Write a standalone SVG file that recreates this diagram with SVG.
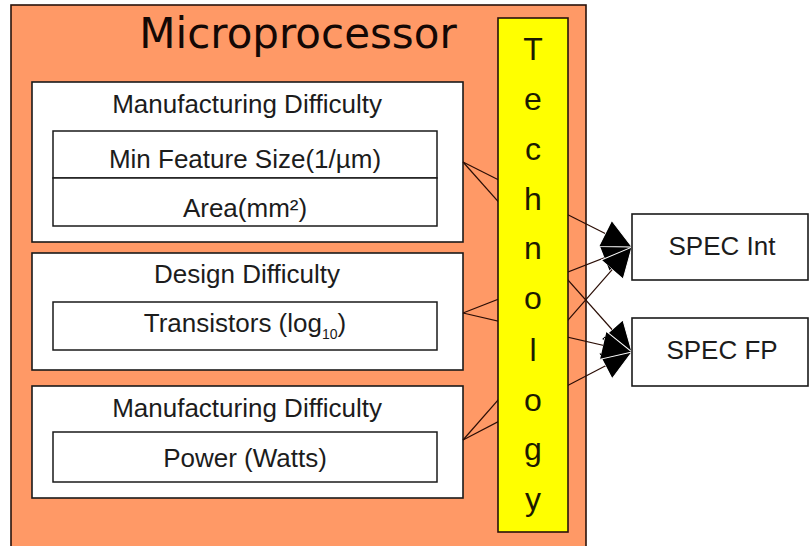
<svg xmlns="http://www.w3.org/2000/svg" width="810" height="546" viewBox="0 0 810 546">
  <style>
    .panel { fill: #ffffff; stroke: #1a1a1a; stroke-width: 1.6; }
    .cell { fill: #ffffff; stroke: #1a1a1a; stroke-width: 1.5; }
    .lbl { font-family: "Liberation Sans", Arial, sans-serif; font-size: 26px; fill: #1c1c1c; text-anchor: middle; }
    .tech { font-family: "Liberation Sans", Arial, sans-serif; font-size: 32px; fill: #1c1a00; text-anchor: middle; }
    .link { fill: none; stroke: #2a0d05; stroke-width: 1.2; marker-end: url(#head); }
  </style>
  <defs>
    <marker id="head" viewBox="0 0 32 32" refX="30" refY="16" markerWidth="32" markerHeight="32" markerUnits="userSpaceOnUse" orient="auto">
      <path d="M0,1.5 L30,16 L0,30.5 Z" fill="#000000" stroke="#ffffff" stroke-width="1"/>
    </marker>
  </defs>

  <rect width="810" height="546" fill="#ffffff"/>

  <!-- Microprocessor container -->
  <g id="microprocessor">
    <rect x="11" y="5" width="575" height="560" fill="#ff9966" stroke="#2a120a" stroke-width="1.6"/>
    <text x="298" y="48" font-family="'DejaVu Sans', sans-serif" font-size="42" fill="#140805" text-anchor="middle">Microprocessor</text>
  </g>

  <!-- Manufacturing difficulty: feature size and area -->
  <g id="mfg-size">
    <rect class="panel" x="32" y="82" width="431" height="160"/>
    <text class="lbl" x="247" y="113">Manufacturing Difficulty</text>
    <rect class="cell" x="53" y="131" width="384" height="47"/>
    <rect class="cell" x="53" y="178" width="384" height="48"/>
    <text class="lbl" x="245" y="168">Min Feature Size(1/µm)</text>
    <text class="lbl" x="245" y="217">Area(mm²)</text>
  </g>

  <!-- Design difficulty: transistor count -->
  <g id="design">
    <rect class="panel" x="32" y="253" width="431" height="117"/>
    <text class="lbl" x="247" y="283">Design Difficulty</text>
    <rect class="cell" x="53" y="302" width="384" height="48"/>
    <text class="lbl" x="245" y="332">Transistors (log<tspan font-size="14" dy="7">10</tspan><tspan dy="-7">)</tspan></text>
  </g>

  <!-- Manufacturing difficulty: power -->
  <g id="mfg-power">
    <rect class="panel" x="32" y="386" width="431" height="112"/>
    <text class="lbl" x="247" y="417">Manufacturing Difficulty</text>
    <rect class="cell" x="53" y="432" width="384" height="50"/>
    <text class="lbl" x="245" y="467">Power (Watts)</text>
  </g>

  <!-- Connectors: metrics to SPEC results (pass behind the Technology bar) -->
  <g id="connectors">
    <line class="link" x1="463" y1="313" x2="632" y2="247"/>
    <line class="link" x1="463" y1="440" x2="632" y2="247"/>
    <line class="link" x1="463" y1="162" x2="632" y2="247"/>
    <line class="link" x1="463" y1="162" x2="632" y2="352"/>
    <line class="link" x1="463" y1="440" x2="632" y2="352"/>
    <line class="link" x1="463" y1="313" x2="632" y2="352"/>
  </g>

  <!-- Technology bar -->
  <g id="technology">
    <rect x="498" y="18" width="70" height="514" fill="#ffff00" stroke="#2a120a" stroke-width="1.6"/>
    <text class="tech" x="533" y="60">T</text>
    <text class="tech" x="533" y="110">e</text>
    <text class="tech" x="533" y="160">c</text>
    <text class="tech" x="533" y="210">h</text>
    <text class="tech" x="533" y="259">n</text>
    <text class="tech" x="533" y="309">o</text>
    <text class="tech" x="533" y="361">l</text>
    <text class="tech" x="533" y="411">o</text>
    <text class="tech" x="533" y="460">g</text>
    <text class="tech" x="533" y="510">y</text>
  </g>

  <!-- Results -->
  <g id="spec-int">
    <rect class="panel" x="632" y="214" width="176" height="66"/>
    <text class="lbl" x="722" y="255">SPEC Int</text>
  </g>
  <g id="spec-fp">
    <rect class="panel" x="632" y="318" width="176" height="68"/>
    <text class="lbl" x="722" y="359">SPEC FP</text>
  </g>
</svg>
